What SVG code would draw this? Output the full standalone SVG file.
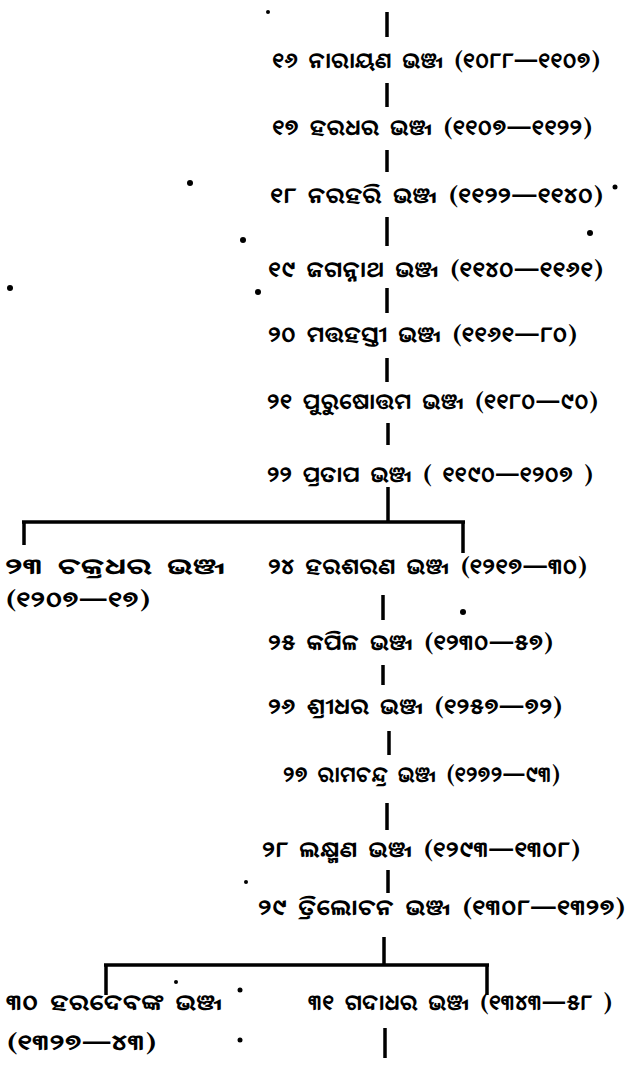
<svg xmlns="http://www.w3.org/2000/svg" width="627" height="1070" viewBox="0 0 627 1070">
<style>
.t{font-family:'Noto Serif Oriya','Noto Sans Oriya','Lohit Odia','Kalinga','Noto Sans','DejaVu Sans',sans-serif;font-size:22px;font-weight:bold;fill:#000}
.c{stroke:#000;stroke-width:3.5;fill:none;stroke-linecap:butt}
.d{fill:#000}
</style>
<rect width="627" height="1070" fill="#fff"/>
<g id="connectors" class="c">
<path d="M387 12V37M387 83V107M387 150V172M387 217V246M387 288V313M387 358V382M388 423V445M388 487V522"/>
<path d="M22 522H465M24 522V545M463 522V553"/>
<path d="M383 595V620M383 665V685M389 731V755M387 803V830M388 870V893M384 937V965"/>
<path d="M104 965H489M106 965V995M487 965V995M385 1028V1058"/>
</g>
<g id="n16"><text class="t" x="272" y="68" textLength="328" lengthAdjust="spacingAndGlyphs">୧୬ ନାରାୟଣ ଭଞ୍ଜ (୧୦୮୮—୧୧୦୭)</text></g>
<g id="n17"><text class="t" x="272" y="135" textLength="320" lengthAdjust="spacingAndGlyphs">୧୭ ହରଧର ଭଞ୍ଜ (୧୧୦୭—୧୧୨୨)</text></g>
<g id="n18"><text class="t" x="270" y="203" textLength="333" lengthAdjust="spacingAndGlyphs">୧୮ ନରହରି ଭଞ୍ଜ (୧୧୨୨—୧୧୪୦)</text></g>
<g id="n19"><text class="t" x="268" y="277" textLength="335" lengthAdjust="spacingAndGlyphs">୧୯ ଜଗନ୍ନାଥ ଭଞ୍ଜ (୧୧୪୦—୧୧୬୧)</text></g>
<g id="n20"><text class="t" x="268" y="342" textLength="309" lengthAdjust="spacingAndGlyphs">୨୦ ମତ୍ତହସ୍ତୀ ଭଞ୍ଜ (୧୧୬୧—୮୦)</text></g>
<g id="n21"><text class="t" x="267" y="409" textLength="331" lengthAdjust="spacingAndGlyphs">୨୧ ପୁରୁଷୋତ୍ତମ ଭଞ୍ଜ (୧୧୮୦—୯୦)</text></g>
<g id="n22"><text class="t" x="267" y="482" textLength="326" lengthAdjust="spacingAndGlyphs">୨୨ ପ୍ରତାପ ଭଞ୍ଜ ( ୧୧୯୦—୧୨୦୭ )</text></g>
<g id="n23"><text class="t" x="5" y="574" textLength="220" lengthAdjust="spacingAndGlyphs">୨୩ ଚକ୍ରଧର ଭଞ୍ଜ</text><text class="t" x="5" y="607" textLength="145" lengthAdjust="spacingAndGlyphs">(୧୨୦୭—୧୭)</text></g>
<g id="n24"><text class="t" x="268" y="574" textLength="319" lengthAdjust="spacingAndGlyphs">୨୪ ହରଶରଣ ଭଞ୍ଜ (୧୨୧୭—୩୦)</text></g>
<g id="n25"><text class="t" x="268" y="650" textLength="285" lengthAdjust="spacingAndGlyphs">୨୫ କପିଳ ଭଞ୍ଜ (୧୨୩୦—୫୭)</text></g>
<g id="n26"><text class="t" x="268" y="714" textLength="294" lengthAdjust="spacingAndGlyphs">୨୬ ଶ୍ରୀଧର ଭଞ୍ଜ (୧୨୫୭—୭୨)</text></g>
<g id="n27"><text class="t" x="283" y="782" textLength="277" lengthAdjust="spacingAndGlyphs">୨୭ ରାମଚନ୍ଦ୍ର ଭଞ୍ଜ (୧୨୭୨—୯୩)</text></g>
<g id="n28"><text class="t" x="262" y="857" textLength="318" lengthAdjust="spacingAndGlyphs">୨୮ ଲକ୍ଷ୍ମଣ ଭଞ୍ଜ (୧୨୯୩—୧୩୦୮)</text></g>
<g id="n29"><text class="t" x="258" y="915" textLength="367" lengthAdjust="spacingAndGlyphs">୨୯ ତ୍ରିଲୋଚନ ଭଞ୍ଜ (୧୩୦୮—୧୩୨୭)</text></g>
<g id="n30"><text class="t" x="6" y="1010" textLength="216" lengthAdjust="spacingAndGlyphs">୩୦ ହରଦେବଙ୍କ ଭଞ୍ଜ</text><text class="t" x="6" y="1050" textLength="150" lengthAdjust="spacingAndGlyphs">(୧୩୨୭—୪୩)</text></g>
<g id="n31"><text class="t" x="308" y="1010" textLength="304" lengthAdjust="spacingAndGlyphs">୩୧ ଗଦାଧର ଭଞ୍ଜ (୧୩୪୩—୫୮ )</text></g>
<g id="specks" class="d">
<circle cx="268" cy="12" r="2"/>
<circle cx="190" cy="183" r="3"/>
<circle cx="615" cy="187" r="2.5"/>
<circle cx="590" cy="233" r="3"/>
<circle cx="243" cy="240" r="3"/>
<circle cx="10" cy="288" r="3"/>
<circle cx="258" cy="292" r="3"/>
<circle cx="463" cy="612" r="3"/>
<circle cx="246" cy="882" r="2"/>
<circle cx="176" cy="982" r="2"/>
<circle cx="240" cy="990" r="2.5"/>
<circle cx="240" cy="1040" r="2.5"/>
</g>
</svg>
